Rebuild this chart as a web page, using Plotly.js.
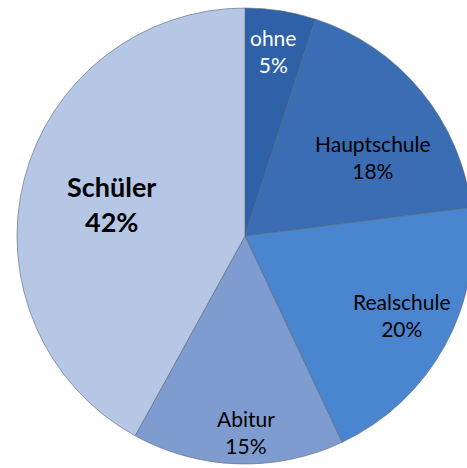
<!DOCTYPE html>
<html><head><meta charset="utf-8">
<script src="https://cdn.plot.ly/plotly-3.0.1.min.js"></script>
<style>html,body{margin:0;padding:0;overflow:hidden;background:#fff}</style>
</head><body>
<div id="chart"></div>
<script>
const categories = ["ohne", "Hauptschule", "Realschule", "Abitur", "Schüler"];
const values = [5, 18, 20, 15, 42];
const colors = ["#2e61a8", "#3a6db4", "#4a85d0", "#7e9ccf", "#b6c7e6"];
const textColors = ["#ffffff", "#000000", "#000000", "#000000", "#000000"];
const textSizes = [21, 21, 21, 21, 27];
const textBold = [false, false, false, false, true];
// label placement: radius fraction and angular offset (deg) per slice
const labelRadius = [0.82, 0.66, 0.77, 0.86, 0.60];
const labelAngleShift = [-0.5, 8, -2, -2, -1];

const W = 480, H = 468;
const CX = 245, CY = 236, R = 228;
const total = values.reduce((a, b) => a + b, 0);
let cum = 0;
const annotations = values.map((v, i) => {
  const mid = (cum + v / 2) / total * 360 + labelAngleShift[i];
  cum += v;
  const th = mid * Math.PI / 180;
  const px = CX + labelRadius[i] * R * Math.sin(th);
  const py = CY - labelRadius[i] * R * Math.cos(th);
  const pct = Math.round(v / total * 100) + "%";
  let t = categories[i] + "<br>" + pct;
  if (textBold[i]) t = "<b>" + t + "</b>";
  return {
    text: t, xref: "paper", yref: "paper",
    x: px / W, y: 1 - py / H, xanchor: "center", yanchor: "middle",
    showarrow: false, align: "center",
    font: {family: "Lato, 'Open Sans', sans-serif", size: textSizes[i], color: textColors[i]}
  };
});

Plotly.newPlot("chart", [{
  type: "pie",
  labels: categories,
  values: values,
  textinfo: "none",
  textposition: "none",
  sort: false,
  direction: "clockwise",
  rotation: 0,
  marker: {colors: colors, line: {color: "rgba(90,100,120,0.6)", width: 1}},
  hoverinfo: "none",
  domain: {x: [(CX - R) / W, (CX + R) / W], y: [1 - (CY + R) / H, 1 - (CY - R) / H]}
}], {
  width: W, height: H,
  margin: {l: 0, r: 0, t: 0, b: 0},
  showlegend: false,
  paper_bgcolor: "#ffffff",
  annotations: annotations
}, {displayModeBar: false, staticPlot: true});
</script>
</body></html>
